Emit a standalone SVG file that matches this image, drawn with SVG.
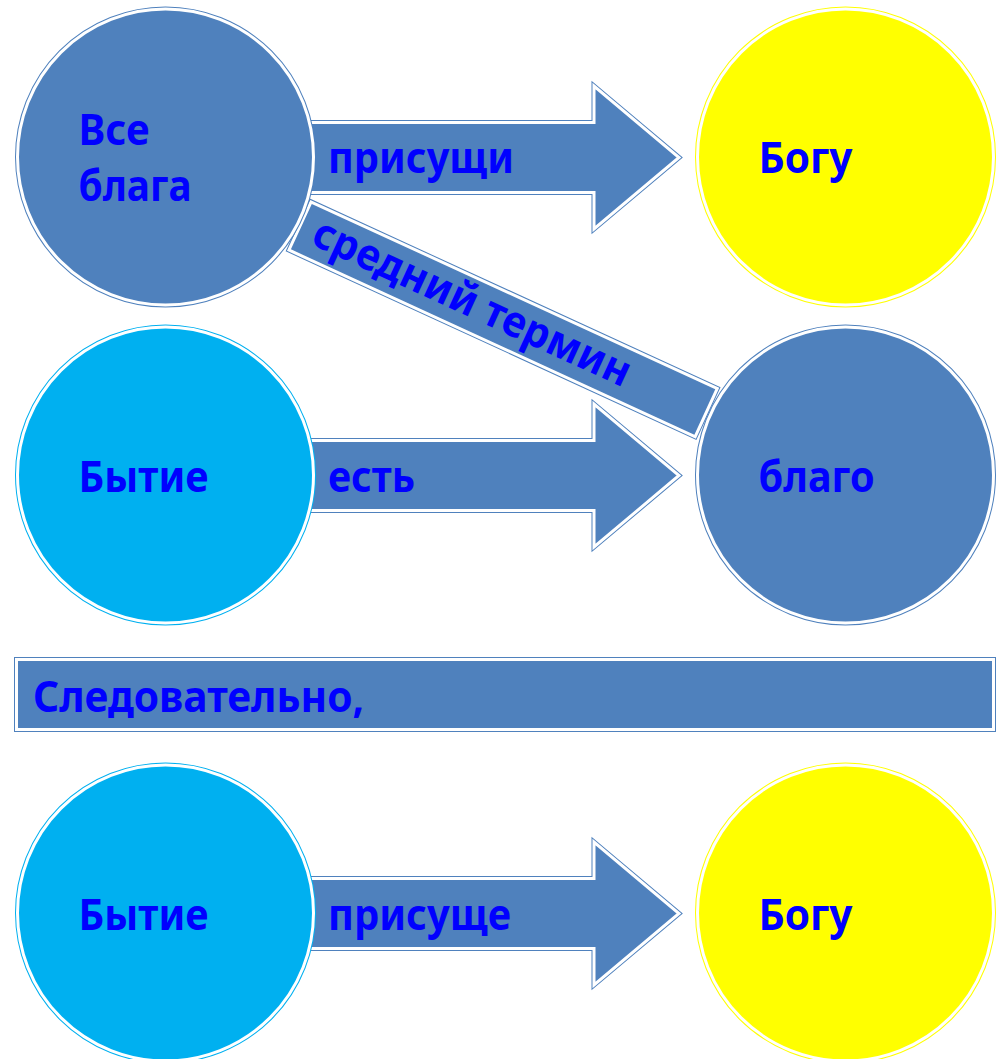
<svg xmlns="http://www.w3.org/2000/svg" width="1003" height="1059" viewBox="0 0 1003 1059">
<style>
.bl{fill:#4F81BD;stroke:#4F81BD}
.cy{fill:#00B0F0;stroke:#00B0F0}
.ye{fill:#FFFF00;stroke:#FFFF00}
.o{stroke-width:5}
.w{stroke:#FFFFFF;stroke-width:3}
text{font-family:"Noto Sans","Open Sans","DejaVu Sans",sans-serif;font-weight:bold;font-size:43px;fill:#0000FF}
</style>
<defs>
<path id="arr" d="M300,-35 L594,-35 L594,-71.5 L679,0 L594,71.5 L594,35 L300,35 Z"/>
<circle id="c" r="148"/>
</defs>
<rect width="1003" height="1059" fill="#FFFFFF"/>
<g id="connectors">
<g id="arrow-prisushchi" transform="translate(0,157.5)">
<use href="#arr" class="bl o"/><use href="#arr" class="bl w"/>
<text x="328" y="15" textLength="186" lengthAdjust="spacingAndGlyphs">присущи</text>
</g>
<g id="arrow-est" transform="translate(0,475.5)">
<use href="#arr" class="bl o"/><use href="#arr" class="bl w"/>
<text x="328" y="16" textLength="87" lengthAdjust="spacingAndGlyphs">есть</text>
</g>
<g id="arrow-prisushche" transform="translate(0,913.5)">
<use href="#arr" class="bl o"/><use href="#arr" class="bl w"/>
<text x="328" y="16" textLength="183" lengthAdjust="spacingAndGlyphs">присуще</text>
</g>
<g id="band-sredniy" transform="translate(300,226) rotate(24.67)">
<rect x="0" y="-26.5" width="447" height="53" class="bl o"/>
<rect x="0" y="-26.5" width="447" height="53" class="bl w"/>
<text x="16" y="12" textLength="345" lengthAdjust="spacingAndGlyphs">средний термин</text>
</g>
</g>
<g id="node-vse-blaga" transform="translate(165.5,157)">
<use href="#c" class="bl o"/><use href="#c" class="bl w"/>
<text x="-87" y="-12" textLength="71" lengthAdjust="spacingAndGlyphs">Все</text>
<text x="-87" y="44" textLength="113" lengthAdjust="spacingAndGlyphs">блага</text>
</g>
<g id="node-bogu-1" transform="translate(845.5,157)">
<use href="#c" class="ye o"/><use href="#c" class="ye w"/>
<text x="-87" y="16" textLength="94" lengthAdjust="spacingAndGlyphs">Богу</text>
</g>
<g id="node-bytie-1" transform="translate(165.5,475)">
<use href="#c" class="cy o"/><use href="#c" class="cy w"/>
<text x="-87" y="17" textLength="130" lengthAdjust="spacingAndGlyphs">Бытие</text>
</g>
<g id="node-blago" transform="translate(845.5,475)">
<use href="#c" class="bl o"/><use href="#c" class="bl w"/>
<text x="-87" y="17" textLength="116" lengthAdjust="spacingAndGlyphs">благо</text>
</g>
<g id="node-sledovatelno">
<rect x="16.5" y="659.5" width="977" height="70" class="bl o"/>
<rect x="16.5" y="659.5" width="977" height="70" class="bl w"/>
<text x="33" y="712" textLength="331" lengthAdjust="spacingAndGlyphs">Следовательно,</text>
</g>
<g id="node-bytie-2" transform="translate(165.5,913)">
<use href="#c" class="cy o"/><use href="#c" class="cy w"/>
<text x="-87" y="17" textLength="130" lengthAdjust="spacingAndGlyphs">Бытие</text>
</g>
<g id="node-bogu-2" transform="translate(845.5,913)">
<use href="#c" class="ye o"/><use href="#c" class="ye w"/>
<text x="-87" y="17" textLength="94" lengthAdjust="spacingAndGlyphs">Богу</text>
</g>
</svg>
